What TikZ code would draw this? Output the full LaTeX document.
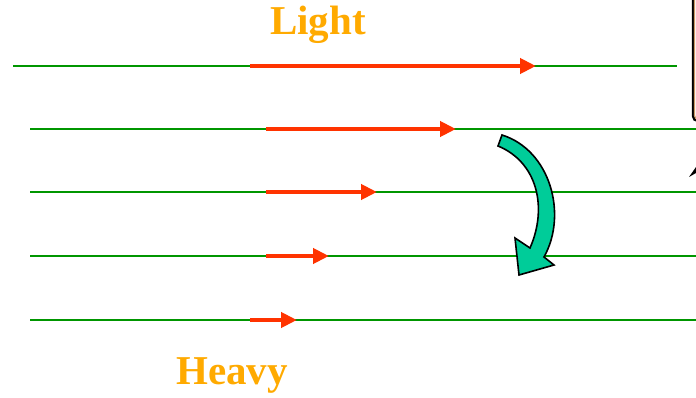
\documentclass[tikz,border=0pt]{standalone}
\usepackage{fontspec}
\setmainfont{Liberation Serif}
\usetikzlibrary{arrows.meta}
\definecolor{lgreen}{RGB}{0,150,0}
\definecolor{lred}{RGB}{255,51,0}
\definecolor{lorange}{RGB}{255,170,0}
\definecolor{lteal}{RGB}{0,204,153}
\definecolor{ltan}{RGB}{204,153,102}
\tikzset{
  fieldline/.style={lgreen, line width=1.8pt},
  forcearrow/.style={lred, line width=4.5pt, -{Triangle[length=16pt,width=15pt]}},
  bigtext/.style={text=lorange, font=\fontsize{41}{48}\selectfont\bfseries, inner sep=0pt},
}
\begin{document}
\begin{tikzpicture}[x=1pt,y=-1pt]
\useasboundingbox (0,0) rectangle (696,398);
% field lines
\coordinate (l1a) at (13,66);  \coordinate (l1b) at (677,66);
\coordinate (l2a) at (30,129); \coordinate (l2b) at (696,129);
\coordinate (l3a) at (30,192); \coordinate (l3b) at (696,192);
\coordinate (l4a) at (30,256); \coordinate (l4b) at (696,256);
\coordinate (l5a) at (30,320); \coordinate (l5b) at (696,320);
\foreach \i in {1,...,5} \draw[fieldline] (l\i a) -- (l\i b);
% red arrows
\coordinate (r1a) at (250,66);  \coordinate (r1b) at (536,66);
\coordinate (r2a) at (266,129); \coordinate (r2b) at (456,129);
\coordinate (r3a) at (266,192); \coordinate (r3b) at (377,192);
\coordinate (r4a) at (266,256); \coordinate (r4b) at (329,256);
\coordinate (r5a) at (250,320); \coordinate (r5b) at (297,320);
\foreach \i in {1,...,5} \draw[forcearrow] (r\i a) -- (r\i b);
% labels
\node[bigtext] (light) at (318,25) {Light};
\node[bigtext] (heavy) at (232,375) {Heavy};
% curved block arrow
\draw[fill=lteal, draw=black, line width=1.6pt, line join=miter]
  (502,135) .. controls (550,150) and (568,214) .. (544,257)
  -- (554,265) -- (519,275) -- (515,238) -- (530,248)
  .. controls (548,207) and (537,162) .. (498,146) -- cycle;
% box at top right (partly off picture)
\draw[black, line width=2.4pt, rounded corners=5pt] (693,-10) rectangle (760,121);
\draw[ltan, line width=1.2pt, rounded corners=4pt] (694.5,-10) rectangle (760,119.5);
% small arrow tip at right edge
\fill[black] (689,177) -- (696,167) -- (696,173) -- cycle;
\end{tikzpicture}
\end{document}
